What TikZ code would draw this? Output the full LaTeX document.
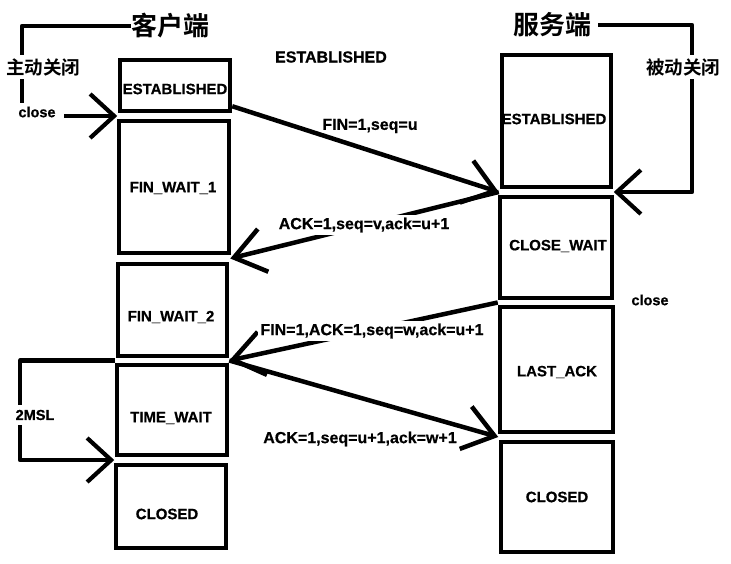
\documentclass[tikz,border=0pt]{standalone}
\usepackage{fontspec}
\setmainfont{Liberation Sans}[BoldFeatures={FakeBold=0.6}]
\newfontfamily\cjk{Noto Sans CJK SC}[BoldFont={Noto Sans CJK SC Bold}]
\usetikzlibrary{arrows.meta,fit,calc}
\begin{document}
\begin{tikzpicture}[x=1pt,y=-1pt,
  box/.style={draw,line width=4.5pt,inner sep=0pt},
  boxtext/.style={font=\bfseries\fontsize{15}{17}\selectfont,inner sep=1pt},
  msg/.style={font=\bfseries\fontsize{16}{18}\selectfont,inner sep=2.5pt},
  cover/.style={fill=white},
  title/.style={font=\cjk\bfseries\fontsize{26}{28}\selectfont,inner sep=0pt},
  side/.style={font=\cjk\bfseries\fontsize{18.5}{20}\selectfont,fill=white,inner sep=3pt},
  small/.style={font=\bfseries\fontsize{14.5}{16}\selectfont,fill=white,inner sep=2pt},
  looparr/.style={line width=4.2pt,line join=round,-{Straight Barb[length=24pt,width=44pt]}},
  msgarr/.style={line width=4.5pt,-{Straight Barb[length=30pt,width=44pt]}}
]
\useasboundingbox (0,0) rectangle (731,564);

% client boxes
\node[box,fit={(120,60) (230,111)}] (cE) {};
\node[box,fit={(119,121) (229,253)}] (cF1) {};
\node[box,fit={(118,264) (227,356)}] (cF2) {};
\node[box,fit={(117,365) (227,455)}] (cT) {};
\node[box,fit={(116,465) (226,548)}] (cC) {};
% server boxes
\node[box,fit={(502,55) (611,187)}] (sE) {};
\node[box,fit={(500,197) (612,298)}] (sCW) {};
\node[box,fit={(500,307) (613,432)}] (sLA) {};
\node[box,fit={(501,442) (613,552)}] (sC) {};

% box texts
\node[boxtext] (tcE) at (175,89) {ESTABLISHED};
\node[boxtext] (tcF1) at (173,188) {FIN\_WAIT\_1};
\node[boxtext] (tcF2) at (171,317) {FIN\_WAIT\_2};
\node[boxtext] (tcT) at (171,418) {TIME\_WAIT};
\node[boxtext] (tcC) at (167,514) {CLOSED};
\node[boxtext] (tsE) at (554,119) {ESTABLISHED};
\node[boxtext] (tsCW) at (558,246) {CLOSE\_WAIT};
\node[boxtext] (tsLA) at (557,372) {LAST\_ACK};
\node[boxtext] (tsC) at (557,497) {CLOSED};

% junctions
\coordinate (jc1) at ($(cE.south west)!.5!(cF1.north west)$);
\coordinate (jc2) at ($(cF1.south east)!.5!(cF2.north east)$);
\coordinate (jc3) at ($(cF2.south east)!.5!(cT.north east)$);
\coordinate (jc3l) at ($(cF2.south west)!.5!(cT.north west)$);
\coordinate (jc4) at ($(cT.south west)!.5!(cC.north west)$);
\coordinate (js1) at ($(sE.south west)!.5!(sCW.north west)$);
\coordinate (js1r) at ($(sE.south east)!.5!(sCW.north east)$);
\coordinate (js2) at ($(sCW.south west)!.5!(sLA.north west)$);
\coordinate (js3) at ($(sLA.south west)!.5!(sC.north west)$);
\coordinate (a1s) at ($(cE.south east)+(0,-7)$);

% titles
\node[title] (ct) at (170,26) {客户端};
\node[title] (st) at (552,25) {服务端};

% loops
\draw[looparr] (ct.west) -| (22,116) -- (jc1);
\draw[looparr] ([xshift=7pt]st.east) -| (692,192) -- (js1r);
\draw[looparr] (jc3l) -| (20,460) -- (jc4);

% messages
\draw[msgarr] (a1s) -- (js1);
\draw[msgarr] (js1) -- (jc2);
\draw[msgarr] (js2) -- (jc3);
\draw[msgarr] (jc3) -- (js3);

% labels
\node[side] (zd) at (43,67) {主动关闭};
\node[side] (bd) at (683,67) {被动关闭};
\node[small,inner xsep=8pt,inner ysep=4pt] (cl1) at (37,112) {close};
\node[small] (cl2) at (650,300) {close};
\node[small,inner ysep=5pt] (msl) at (35,415) {2MSL};
\node[msg] (est) at (331,57) {ESTABLISHED};
\node[msg] (m1) at (370,126) {FIN=1,seq=u};
\node[msg,cover] (m2) at (364,225) {ACK=1,seq=v,ack=u+1};
\node[msg,cover] (m3) at (372,331) {FIN=1,ACK=1,seq=w,ack=u+1};
\node[msg] (m4) at (360,439) {ACK=1,seq=u+1,ack=w+1};
\end{tikzpicture}
\end{document}
